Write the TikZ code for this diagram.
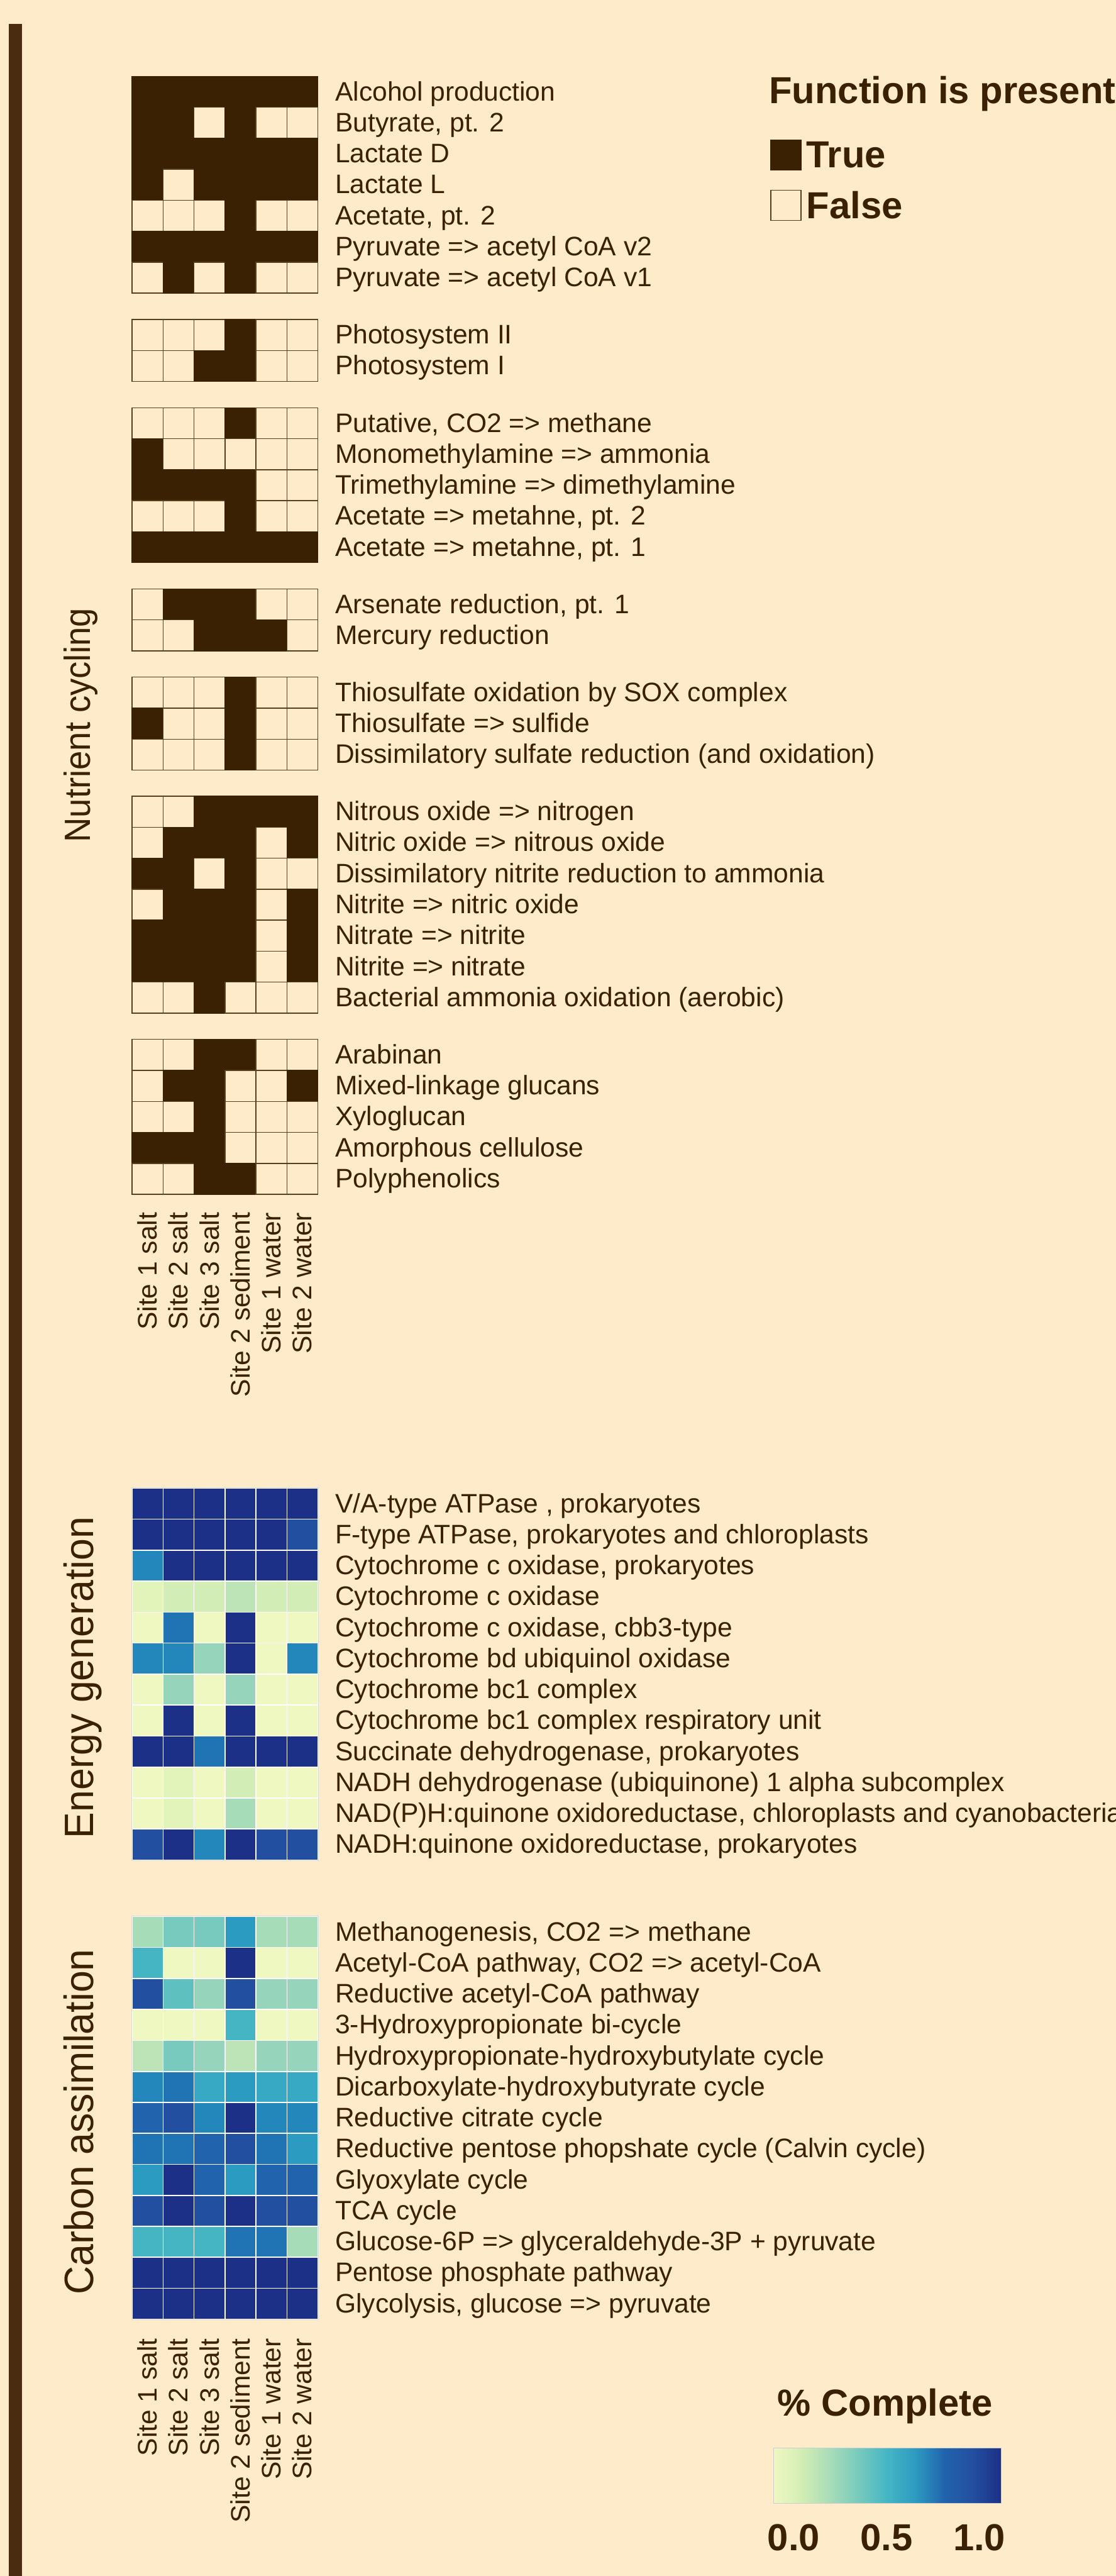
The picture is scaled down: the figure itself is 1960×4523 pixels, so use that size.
\documentclass[tikz,border=0pt]{standalone}
\usepackage{fontspec}
\setmainfont{Liberation Sans}
\usepackage{tikz}
\usetikzlibrary{positioning}
\definecolor{paper}{HTML}{FEEBC9}
\definecolor{bark}{HTML}{3B2103}
\definecolor{barbrown}{HTML}{4A2D10}
\definecolor{gridline}{HTML}{5A3F1F}
\definecolor{hm0}{HTML}{EFF8C1}
\definecolor{hm1}{HTML}{E2F4BA}
\definecolor{hm2}{HTML}{D2EDB5}
\definecolor{hm3}{HTML}{BCE4B6}
\definecolor{hm4}{HTML}{A7DCB8}
\definecolor{hm5}{HTML}{96D4BB}
\definecolor{hm6}{HTML}{77CABD}
\definecolor{hm7}{HTML}{5FC0C0}
\definecolor{hm8}{HTML}{45B5C4}
\definecolor{hm9}{HTML}{38A9C5}
\definecolor{hm10}{HTML}{2C9BC2}
\definecolor{hm11}{HTML}{2387BC}
\definecolor{hm12}{HTML}{2174B3}
\definecolor{hm13}{HTML}{2163AC}
\definecolor{hm14}{HTML}{234FA0}
\definecolor{hm15}{HTML}{1F3D93}
\definecolor{hm16}{HTML}{1C3087}
\pgfdeclarehorizontalshading{ylgnbu}{100bp}{color(0bp)=(hm0); color(25bp)=(hm0);
  color(31.25bp)=(hm2); color(37.5bp)=(hm4); color(43.75bp)=(hm6); color(50bp)=(hm8);
  color(56.25bp)=(hm10); color(62.5bp)=(hm13); color(68.75bp)=(hm14); color(75bp)=(hm16); color(100bp)=(hm16)}
\tikzset{
  rowlab/.style={anchor=base west,inner sep=0pt,text=bark,font=\fontsize{11.75pt}{14pt}\selectfont},
  collab/.style={rotate=90,anchor=base east,inner sep=0pt,text=bark,font=\fontsize{11.75pt}{14pt}\selectfont},
  seclab/.style={rotate=90,anchor=base west,inner sep=0pt,text=bark},
  legtitle/.style={anchor=base west,inner sep=0pt,text=bark,font=\bfseries\fontsize{16.5pt}{19pt}\selectfont},
  legtext/.style={inner sep=0pt,text=bark,font=\bfseries\fontsize{16.5pt}{19pt}\selectfont},
  bin1/.style={fill=bark,draw=bark,line width=0.4pt},
  bin0/.style={fill=paper,draw=gridline,line width=0.4pt},
  hmcell/.style={draw=white,line width=0.45pt}
}
\begin{document}
\begin{tikzpicture}[x=0.25pt,y=-0.25pt]
  \useasboundingbox (0,0) rectangle (1960,4523);
  \fill[paper] (0,0) rectangle (1960,4523);
  \fill[barbrown] (15,42) rectangle (39,4523);
  % presence / absence blocks
  \foreach \y/\bits/\txt/\nm in {
      134/{1,1,1,1,1,1}/Alcohol production/r1,
      188.4/{1,1,0,1,0,0}/{Butyrate, pt. 2}/r2,
      242.8/{1,1,1,1,1,1}/Lactate D/r3,
      297.2/{1,0,1,1,1,1}/Lactate L/r4,
      351.6/{0,0,0,1,0,0}/{Acetate, pt. 2}/r5,
      406/{1,1,1,1,1,1}/Pyruvate => acetyl CoA v2/r6,
      460.4/{0,1,0,1,0,0}/Pyruvate => acetyl CoA v1/r7,
      561/{0,0,0,1,0,0}/Photosystem II/r8,
      615.4/{0,0,1,1,0,0}/Photosystem I/r9,
      716/{0,0,0,1,0,0}/{Putative, CO2 => methane}/r10,
      770.4/{1,0,0,0,0,0}/Monomethylamine => ammonia/r11,
      824.8/{1,1,1,1,0,0}/Trimethylamine => dimethylamine/r12,
      879.2/{0,0,0,1,0,0}/{Acetate => metahne, pt. 2}/r13,
      933.6/{1,1,1,1,1,1}/{Acetate => metahne, pt. 1}/r14,
      1034/{0,1,1,1,0,0}/{Arsenate reduction, pt. 1}/r15,
      1088.4/{0,0,1,1,1,0}/Mercury reduction/r16,
      1189/{0,0,0,1,0,0}/Thiosulfate oxidation by SOX complex/r17,
      1243.4/{1,0,0,1,0,0}/Thiosulfate => sulfide/r18,
      1297.8/{0,0,0,1,0,0}/Dissimilatory sulfate reduction (and oxidation)/r19,
      1398/{0,0,1,1,1,1}/Nitrous oxide => nitrogen/r20,
      1452.4/{0,1,1,1,0,1}/Nitric oxide => nitrous oxide/r21,
      1506.8/{1,1,0,1,0,0}/Dissimilatory nitrite reduction to ammonia/r22,
      1561.2/{0,1,1,1,0,1}/Nitrite => nitric oxide/r23,
      1615.6/{1,1,1,1,0,1}/Nitrate => nitrite/r24,
      1670/{1,1,1,1,0,1}/Nitrite => nitrate/r25,
      1724.4/{0,0,1,0,0,0}/Bacterial ammonia oxidation (aerobic)/r26,
      1825/{0,0,1,1,0,0}/Arabinan/r27,
      1879.4/{0,1,1,0,0,1}/Mixed-linkage glucans/r28,
      1933.8/{0,0,1,0,0,0}/Xyloglucan/r29,
      1988.2/{1,1,1,0,0,0}/Amorphous cellulose/r30,
      2042.6/{0,0,1,1,0,0}/Polyphenolics/r31}{
    \foreach \b [count=\c] in \bits
      \path[bin\b] ({232+54.4*(\c-1)},\y) rectangle +(54.4,54.4);
    \node[rowlab] (\nm) at (588,{\y+42.7}) {\txt};
  }
  % completeness heatmaps
  \foreach \y/\vals/\txt/\nm in {
      2613/{16,16,16,16,16,16}/{V/A-type ATPase , prokaryotes}/e1,
      2667.4/{16,16,16,16,16,14}/{F-type ATPase, prokaryotes and chloroplasts}/e2,
      2721.8/{11,16,16,16,16,16}/{Cytochrome c oxidase, prokaryotes}/e3,
      2776.2/{1,2,2,3,2,2}/Cytochrome c oxidase/e4,
      2830.6/{0,12,0,16,0,0}/{Cytochrome c oxidase, cbb3-type}/e5,
      2885/{11,11,5,16,0,11}/Cytochrome bd ubiquinol oxidase/e6,
      2939.4/{0,5,0,5,0,0}/Cytochrome bc1 complex/e7,
      2993.8/{0,16,0,16,0,0}/Cytochrome bc1 complex respiratory unit/e8,
      3048.2/{16,16,12,16,16,16}/{Succinate dehydrogenase, prokaryotes}/e9,
      3102.6/{0,1,0,2,0,0}/NADH dehydrogenase (ubiquinone) 1 alpha subcomplex/e10,
      3157/{0,1,0,4,0,0}/{NAD(P)H:quinone oxidoreductase, chloroplasts and cyanobacteria}/e11,
      3211.4/{14,16,11,16,14,14}/{NADH:quinone oxidoreductase, prokaryotes}/e12,
      3365/{4,6,6,10,4,4}/{Methanogenesis, CO2 => methane}/c1,
      3419.4/{8,0,0,16,0,0}/{Acetyl-CoA pathway, CO2 => acetyl-CoA}/c2,
      3473.8/{14,7,5,14,5,5}/Reductive acetyl-CoA pathway/c3,
      3528.2/{0,0,0,8,0,0}/3-Hydroxypropionate bi-cycle/c4,
      3582.6/{3,6,5,3,5,5}/Hydroxypropionate-hydroxybutylate cycle/c5,
      3637/{11,12,9,10,9,9}/Dicarboxylate-hydroxybutyrate cycle/c6,
      3691.4/{13,14,11,16,11,11}/Reductive citrate cycle/c7,
      3745.8/{12,12,13,14,12,10}/Reductive pentose phopshate cycle (Calvin cycle)/c8,
      3800.2/{10,16,13,10,13,13}/Glyoxylate cycle/c9,
      3854.6/{14,16,14,16,14,14}/TCA cycle/c10,
      3909/{8,8,8,12,12,4}/Glucose-6P => glyceraldehyde-3P + pyruvate/c11,
      3963.4/{16,16,16,16,16,16}/Pentose phosphate pathway/c12,
      4017.8/{16,16,16,16,16,16}/{Glycolysis, glucose => pyruvate}/c13}{
    \foreach \v [count=\c] in \vals
      \path[hmcell,fill=hm\v] ({232+54.4*(\c-1)},\y) rectangle +(54.4,54.4);
    \node[rowlab] (\nm) at (588,{\y+42.7}) {\txt};
  }
  \draw[black!15,line width=0.3pt] (231,2612) rectangle (559.4,3266.8);
  \draw[black!15,line width=0.3pt] (231,3364) rectangle (559.4,4073.2);
  \foreach \txt [count=\c] in {Site 1 salt,Site 2 salt,Site 3 salt,Site 2 sediment,Site 1 water,Site 2 water}{
    \node[collab] (sa\c) at ({232+54.4*(\c-1)+43.7},2128) {\txt};
    \node[collab] (sb\c) at ({232+54.4*(\c-1)+43.7},4105) {\txt};
  }
  % section titles
  \node[seclab,font=\fontsize{16pt}{19pt}\selectfont] (secnut) at (158,1480) {\scalebox{0.94}[1]{Nutrient cycling}};
  \node[seclab,font=\fontsize{18pt}{21pt}\selectfont] (secene) at (164,3229) {\scalebox{0.96}[1]{Energy generation}};
  \node[seclab,font=\fontsize{18pt}{21pt}\selectfont] (seccar) at (164,4030) {\scalebox{0.96}[1]{Carbon assimilation}};
  % legends
  \node[legtitle] (ftitle) at (1350,182) {Function is present};
  \node[bin1,minimum size=13.25pt,inner sep=0pt,anchor=north west] (keyon) at (1353,245) {};
  \node[bin0,minimum size=13.25pt,inner sep=0pt,anchor=north west] (keyoff) at (1353,333) {};
  \node[legtext,right=2pt of keyon] (ontxt) {True};
  \node[legtext,right=2pt of keyoff] (offtxt) {False};
  \node[legtitle] (ctitle) at (1365,4242) {\% Complete};
  \shade[shading=ylgnbu] (1359,4298) rectangle (1758,4395);
  \draw[black!20,line width=0.3pt] (1359,4298) rectangle (1758,4395);
  \node[legtitle,anchor=base] (tk0) at (1394,4478) {0.0};
  \node[legtitle,anchor=base] (tk5) at (1557,4478) {0.5};
  \node[legtitle,anchor=base] (tk10) at (1720,4478) {1.0};
\end{tikzpicture}
\end{document}
